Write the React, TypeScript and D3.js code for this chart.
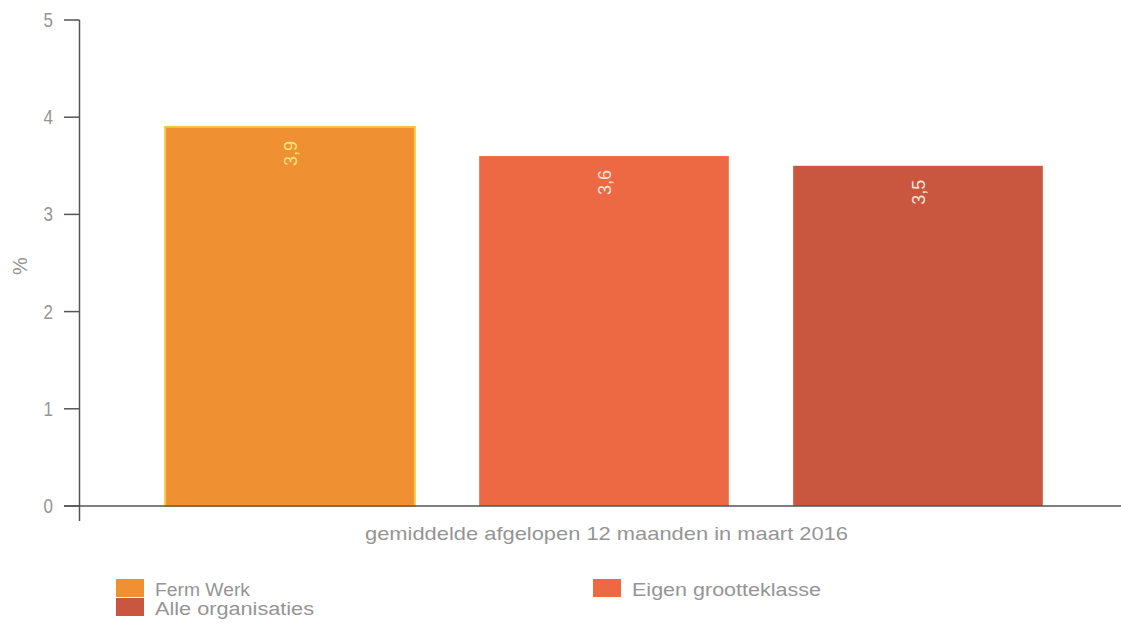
import React from "react";
import * as d3 from "d3";

const categories = ["Ferm Werk", "Eigen grootteklasse", "Alle organisaties"];
const values = [3.9, 3.6, 3.5];
const valueLabels = ["3,9", "3,6", "3,5"];
const colors = ["#EF9033", "#EC6944", "#C9563F"];
const yTicks = [0, 1, 2, 3, 4, 5];
const xTitle = "gemiddelde afgelopen 12 maanden in maart 2016";
const yTitle = "%";
const legendTextWidths = [95, 189, 159];

export default function App() {
  const W = 1121, H = 626;
  const y = d3.scaleLinear().domain([0, 5]).range([506, 20]);
  const x = d3.scaleBand<string>().domain(categories).range([133, 1075]).paddingInner(0.205).paddingOuter(0.1025);
  const font = "'Liberation Sans', Arial, sans-serif";
  const gray = "#959595";
  const legendPos = [
    { x: 116, y: 579 },
    { x: 593, y: 579 },
    { x: 116, y: 598 },
  ];
  return (
    <svg width={W} height={H} style={{ position: "absolute", left: 0, top: 0, background: "#fff" }} fontFamily={font}>
      {categories.map((c, i) => (
        <rect key={c} x={x(c)} y={y(values[i])} width={x.bandwidth()} height={y(0) - y(values[i])}
          fill={colors[i]} stroke={i === 0 ? "#F6C443" : "none"} strokeWidth={i === 0 ? 2 : 0} />
      ))}
      {categories.map((c, i) => {
        const cx = (x(c) as number) + x.bandwidth() / 2;
        const ty = y(values[i]) + 14;
        return (
          <text key={c + "l"} transform={`translate(${cx + 7},${ty}) rotate(-90)`} textAnchor="end"
            fontSize={18} fill={i === 0 ? "#F7E27A" : "#F8E3D8"}>{valueLabels[i]}</text>
        );
      })}
      {/* axes */}
      <line x1={79.5} x2={79.5} y1={20} y2={521} stroke="#555" strokeWidth={1.5} />
      <line x1={64} x2={1121} y1={y(0)} y2={y(0)} stroke="#555" strokeWidth={1.5} />
      {yTicks.map((t) => (
        <g key={t}>
          <line x1={64} x2={79.5} y1={y(t)} y2={y(t)} stroke="#555" strokeWidth={1.5} />
          <text transform={`translate(53,${y(t) + 7}) scale(0.85,1)`} textAnchor="end" fontSize={20} fill={gray}>{t}</text>
        </g>
      ))}
      <text transform={`translate(27,266) rotate(-90)`} textAnchor="middle" fontSize={20} fill={gray}>{yTitle}</text>
      <text x={365} y={540} textLength={483} lengthAdjust="spacingAndGlyphs" fontSize={19} fill={gray}>{xTitle}</text>
      {categories.map((c, i) => (
        <g key={c + "g"}>
          <rect x={legendPos[i].x} y={legendPos[i].y} width={28} height={18} fill={colors[i]} />
          <text x={i === 1 ? 632 : 155} y={legendPos[i].y + 17} textLength={legendTextWidths[i]} lengthAdjust="spacingAndGlyphs"
            fontSize={18} fill={gray}>{c}</text>
        </g>
      ))}
    </svg>
  );
}
